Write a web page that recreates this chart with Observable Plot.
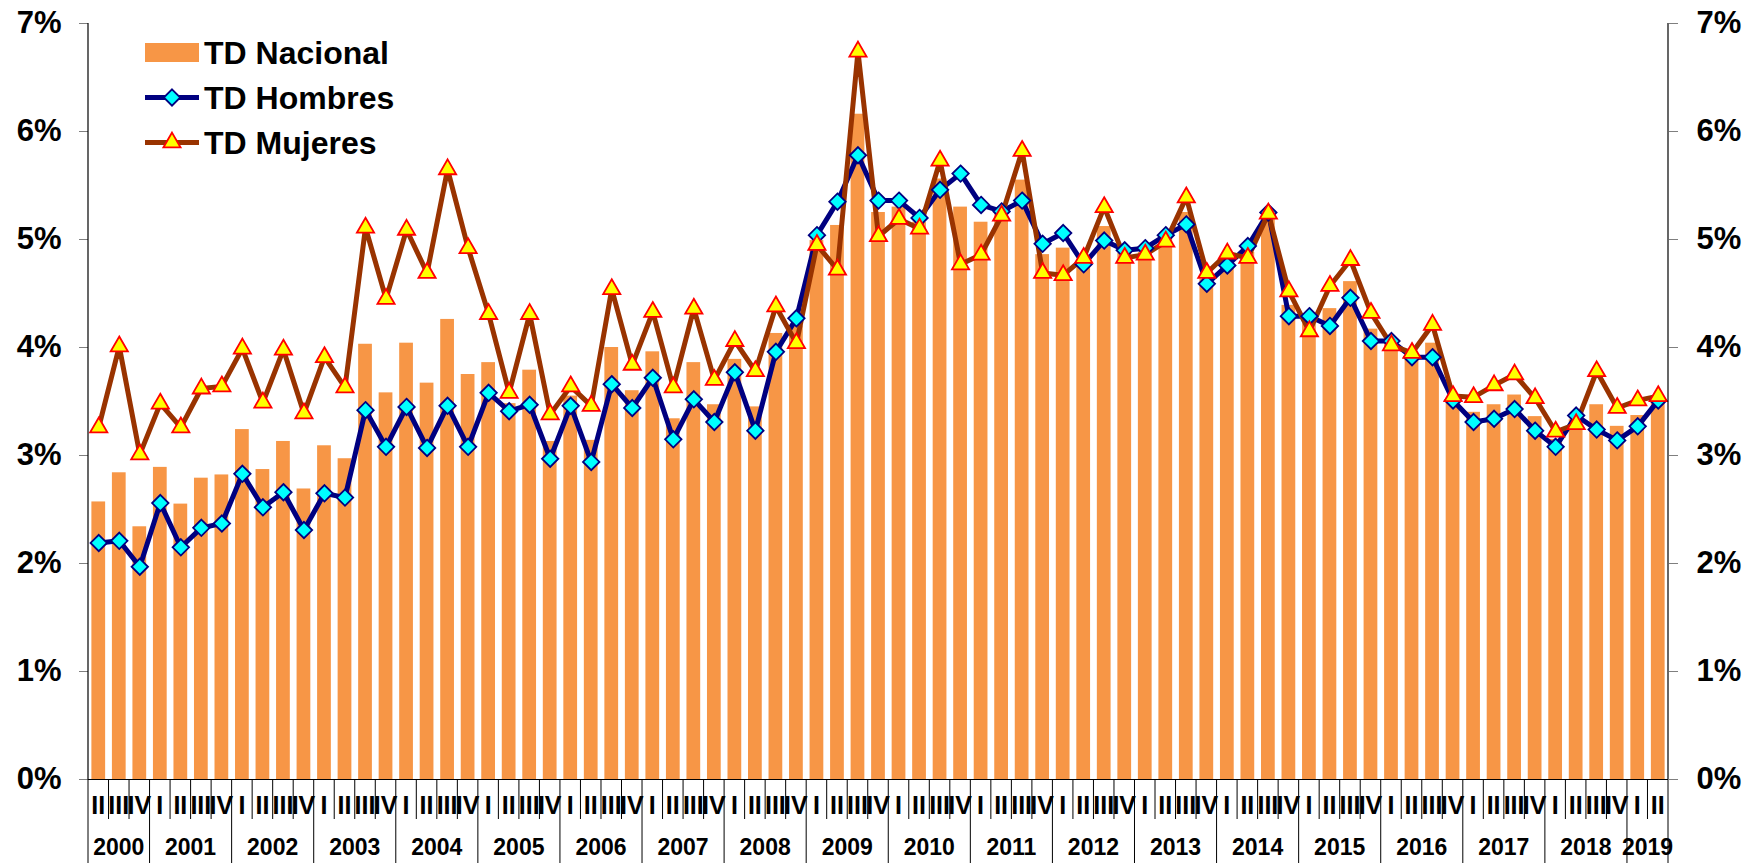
<!DOCTYPE html>
<html>
<head>
<meta charset="utf-8">
<script src="https://cdn.jsdelivr.net/npm/d3@7"></script>
<script src="https://cdn.jsdelivr.net/npm/@observablehq/plot@0.6"></script>
<style>
  html, body { margin: 0; padding: 0; background: #fff; }
  #wrap { position: relative; width: 1759px; height: 863px; font-family: "Liberation Sans", Arial, sans-serif; }
  #legend { position: absolute; left: 0; top: 0; pointer-events: none; }
</style>
</head>
<body>
<div id="wrap"><div id="chart"></div><svg id="legend" width="420" height="170"></svg></div>
<script>
// ---- Data ----
const years = [2000, 2001, 2002, 2003, 2004, 2005, 2006, 2007, 2008, 2009, 2010, 2011, 2012, 2013, 2014, 2015, 2016, 2017, 2018, 2019];
const quarterNames = ["I", "II", "III", "IV"];
const firstPeriod = { year: 2000, q: 1 };   // 2000 II (0-based quarter index)
const lastPeriod = { year: 2019, q: 1 };    // 2019 II
const yTicks = [0, 1, 2, 3, 4, 5, 6, 7];
const seriesNames = ["TD Nacional", "TD Hombres", "TD Mujeres"];

const nacional = [2.57, 2.84, 2.34,
  2.89, 2.55, 2.79, 2.82,
  3.24, 2.87, 3.13, 2.69,
  3.09, 2.97, 4.03, 3.58,
  4.04, 3.67, 4.26, 3.75,
  3.86, 3.48, 3.79, 3.13,
  3.55, 3.14, 4.00, 3.60,
  3.96, 3.34, 3.86, 3.47,
  3.89, 3.45, 4.13, 4.20,
  4.99, 5.13, 6.16, 5.25,
  5.30, 5.16, 5.56, 5.30,
  5.16, 5.23, 5.55, 4.86,
  4.92, 4.79, 5.12, 4.87,
  4.88, 5.01, 5.25, 4.63,
  4.80, 4.88, 5.24, 4.39,
  4.22, 4.36, 4.61, 4.17,
  4.05, 3.92, 4.04, 3.53,
  3.40, 3.47, 3.56, 3.36,
  3.15, 3.33, 3.47, 3.27,
  3.37, 3.50];

const hombres = [2.19, 2.21, 1.97,
  2.56, 2.15, 2.33, 2.37,
  2.83, 2.52, 2.66, 2.31,
  2.65, 2.61, 3.42, 3.08,
  3.45, 3.07, 3.46, 3.08,
  3.58, 3.41, 3.47, 2.97,
  3.46, 2.94, 3.66, 3.44,
  3.72, 3.15, 3.52, 3.31,
  3.77, 3.23, 3.96, 4.27,
  5.04, 5.35, 5.78, 5.36,
  5.36, 5.20, 5.46, 5.61,
  5.32, 5.26, 5.36, 4.96,
  5.06, 4.77, 4.99, 4.90,
  4.92, 5.04, 5.14, 4.59,
  4.76, 4.94, 5.25, 4.29,
  4.29, 4.20, 4.46, 4.06,
  4.06, 3.91, 3.91, 3.51,
  3.31, 3.34, 3.43, 3.23,
  3.08, 3.37, 3.24, 3.14,
  3.27, 3.51];

const mujeres = [3.26, 4.01, 3.01,
  3.48, 3.26, 3.62, 3.64,
  3.99, 3.49, 3.98, 3.39,
  3.91, 3.63, 5.11, 4.45,
  5.09, 4.69, 5.65, 4.92,
  4.31, 3.58, 4.31, 3.38,
  3.64, 3.46, 4.54, 3.84,
  4.33, 3.63, 4.36, 3.70,
  4.06, 3.78, 4.38, 4.04,
  4.95, 4.72, 6.74, 5.03,
  5.19, 5.10, 5.73, 4.77,
  4.86, 5.22, 5.82, 4.69,
  4.67, 4.83, 5.30, 4.83,
  4.86, 4.98, 5.39, 4.69,
  4.87, 4.83, 5.24, 4.52,
  4.15, 4.57, 4.81, 4.32,
  4.02, 3.95, 4.21, 3.55,
  3.54, 3.65, 3.75, 3.53,
  3.22, 3.29, 3.78, 3.44,
  3.51, 3.55];

// ---- Build table ----
const periods = [];
for (const y of years) {
  for (let q = 0; q < 4; q++) {
    if (y === firstPeriod.year && q < firstPeriod.q) continue;
    if (y === lastPeriod.year && q > lastPeriod.q) continue;
    periods.push({ year: y, q: quarterNames[q], key: y + "-" + quarterNames[q] });
  }
}
const data = periods.map((p, i) => ({ ...p, nac: nacional[i], hom: hombres[i], muj: mujeres[i] }));

const COL = { bar: "#F79646", hLine: "#000080", hFill: "#00FFFF", mLine: "#993300", mFill: "#FFFF00", mStroke: "#FF0000" };
const FONT = "Liberation Sans, Arial, sans-serif";
const R_DIAMOND = 7.4, R_TRIANGLE = 8.2;

const W = 1759, H = 863;
const chart = Plot.plot({
  width: W, height: H,
  marginLeft: 88, marginRight: 91, marginTop: 23, marginBottom: 84,
  x: { domain: data.map(d => d.key), paddingInner: 0.33, paddingOuter: 0.165, axis: null },
  y: { domain: [0, 7], axis: null },
  style: { fontFamily: FONT, fontWeight: "bold", background: "white", overflow: "visible", color: "black" },
  marks: [
    Plot.barY(data, { x: "key", y: "nac", fill: COL.bar }),
    Plot.axisY({ anchor: "left", ticks: yTicks, tickFormat: d => d + "%", tickSize: 9, tickPadding: 18, fontSize: 31 }),
    Plot.axisY({ anchor: "right", ticks: yTicks, tickFormat: d => d + "%", tickSize: 9, tickPadding: 19, fontSize: 31 }),
    Plot.ruleY([0], { stroke: "black", strokeWidth: 1.2 }),
    Plot.lineY(data, { x: "key", y: "hom", stroke: COL.hLine, strokeWidth: 5 }),
    Plot.lineY(data, { x: "key", y: "muj", stroke: COL.mLine, strokeWidth: 5 }),
    Plot.dot(data, { x: "key", y: "hom", symbol: "diamond2", r: R_DIAMOND, fill: COL.hFill, stroke: COL.hLine, strokeWidth: 1.8 }),
    Plot.dot(data, { x: "key", y: "muj", symbol: "triangle2", r: R_TRIANGLE, fill: COL.mFill, stroke: COL.mStroke, strokeWidth: 1.8 })
  ]
});
document.getElementById("chart").appendChild(chart);

// ---- Frame lines and multi-level category axis drawn from Plot's scales ----
const xs = chart.scale("x"), ys = chart.scale("y");
const svg = d3.select(chart);
svg.selectAll("g[aria-label='y-axis tick'] path, g[aria-label='y-axis tick'] line").attr("stroke", "#7f7f7f");
const xLeft = xs.range[0], xRight = xs.range[1];
const y0 = ys.apply(0), yTop = ys.apply(7);
const g = svg.append("g").attr("font-family", FONT).attr("font-weight", "bold");
g.append("line").attr("x1", xLeft).attr("x2", xLeft).attr("y1", yTop).attr("y2", y0).attr("stroke", "black").attr("stroke-width", 1.2);
g.append("line").attr("x1", xRight).attr("x2", xRight).attr("y1", yTop).attr("y2", y0).attr("stroke", "black").attr("stroke-width", 1.2);

const step = xs.bandwidth / (1 - 0.33);
const center = k => xs.apply(k) + xs.bandwidth / 2;
data.forEach((d, i) => {
  const cx = center(d.key);
  g.append("text").attr("x", cx).attr("y", y0 + 35).attr("text-anchor", "middle")
    .attr("font-size", 25).text(d.q);
  const left = cx - step / 2;
  const isYearStart = i === 0 || data[i - 1].year !== d.year;
  g.append("line").attr("x1", left).attr("x2", left).attr("y1", y0).attr("y2", isYearStart ? H : y0 + 40)
    .attr("stroke", "black").attr("stroke-width", 1);
});
g.append("line").attr("x1", xRight).attr("x2", xRight).attr("y1", y0).attr("y2", H).attr("stroke", "black").attr("stroke-width", 1);
for (const y of years) {
  const ds = data.filter(d => d.year === y);
  const cx = (center(ds[0].key) + center(ds[ds.length - 1].key)) / 2;
  g.append("text").attr("x", cx).attr("y", y0 + 76).attr("text-anchor", "middle").attr("font-size", 23).text(y);
}

// ---- Legend ----
const lg = d3.select("#legend").attr("font-family", FONT).attr("font-weight", "bold");
lg.append("rect").attr("x", 145).attr("y", 43).attr("width", 54).attr("height", 19).attr("fill", COL.bar);
lg.append("line").attr("x1", 145).attr("x2", 199).attr("y1", 97.5).attr("y2", 97.5).attr("stroke", COL.hLine).attr("stroke-width", 5);
lg.append("path").attr("transform", "translate(172,97.5)").attr("d", d3.symbol(d3.symbolDiamond2, Math.PI * R_DIAMOND * R_DIAMOND)())
  .attr("fill", COL.hFill).attr("stroke", COL.hLine).attr("stroke-width", 1.8);
lg.append("line").attr("x1", 145).attr("x2", 199).attr("y1", 142.5).attr("y2", 142.5).attr("stroke", COL.mLine).attr("stroke-width", 5);
lg.append("path").attr("transform", "translate(172,142.5)").attr("d", d3.symbol(d3.symbolTriangle2, Math.PI * R_TRIANGLE * R_TRIANGLE)())
  .attr("fill", COL.mFill).attr("stroke", COL.mStroke).attr("stroke-width", 1.8);
[63.5, 108.5, 153.5].forEach((by, i) => {
  lg.append("text").attr("x", 204).attr("y", by).attr("font-size", 32).text(seriesNames[i]);
});
</script>
</body>
</html>
